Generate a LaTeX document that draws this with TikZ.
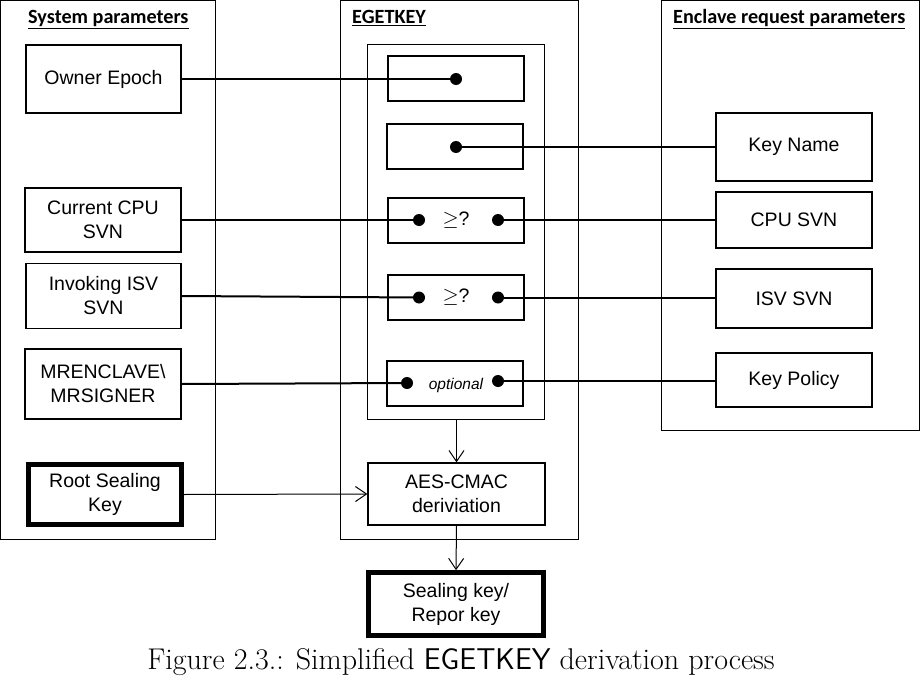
\documentclass[tikz,border=0pt]{standalone}
\usepackage{fontspec}
\usetikzlibrary{arrows.meta}
\newfontfamily\arialf{Liberation Sans}
\newfontfamily\calibrif{Carlito}
\begin{document}
\begin{tikzpicture}[x=1pt,y=-1pt,
  panel/.style={draw,line width=1pt},
  pbox/.style={draw,line width=1.3pt,inner sep=0pt,align=center,
    font=\arialf\fontsize{19.5}{24}\selectfont},
  kbox/.style={pbox,line width=4.5pt},
  slot/.style={draw,line width=1.3pt,inner sep=0pt,minimum width=136pt,minimum height=45pt,
    font=\arialf\fontsize{19.5}{24}\selectfont},
  conn/.style={line width=2pt},
  arr/.style={line width=1pt,-{Straight Barb[length=11pt,width=15pt,line width=1pt]}},
  head/.style={anchor=base west,inner sep=0pt,font=\calibrif\bfseries\fontsize{20.2}{24}\selectfont},
  dotf/.style={fill=black}
]
\useasboundingbox (0,0) rectangle (921,685);
% panels
\draw[panel] (0.5,0.5) rectangle (215,539);
\draw[panel] (340,1) rectangle (578,539);
\draw[panel] (661,1) rectangle (919,430);
\draw[panel] (367,45) rectangle (544,419);
% headings
\node[head] (h1) at (28,24) {\underline{System parameters}};
\node[head] (h2) at (352,24) {\underline{EGETKEY}};
\node[head] (h3) at (673,24) {\underline{Enclave request parameters}};
% left boxes
\node[pbox,minimum width=155pt,minimum height=68pt] (oe) at (103.5,79) {\raisebox{-2pt}{Owner Epoch}};
\node[pbox,minimum width=156pt,minimum height=64pt] (cpu) at (103,220) {Current CPU\\SVN};
\node[pbox,minimum width=155pt,minimum height=65pt] (isv) at (103.5,296) {Invoking ISV\\SVN};
\node[pbox,minimum width=156pt,minimum height=70pt] (mr) at (103,384) {MRENCLAVE\textbackslash\\MRSIGNER};
\node[kbox,minimum width=153pt,minimum height=60pt] (rsk) at (105,494.5) {Root Sealing\\Key};
% right boxes
\node[pbox,minimum width=156pt,minimum height=68pt] (kn) at (794,147) {\raisebox{-2.5pt}{Key Name}};
\node[pbox,minimum width=156pt,minimum height=56pt] (csvn) at (794,220) {\raisebox{-1.5pt}{CPU SVN}};
\node[pbox,minimum width=156pt,minimum height=59pt] (isvn) at (794,298.5) {\raisebox{-1.5pt}{ISV SVN}};
\node[pbox,minimum width=156pt,minimum height=54pt] (kp) at (794,380) {\raisebox{-2pt}{Key Policy}};
% slots
\node[slot] (s1) at (456,78.5) {};
\node[slot] (s2) at (455,146.5) {};
\node[slot] (s3) at (456,220.5) {\ensuremath{\geq}?};
\node[slot] (s4) at (456,297.5) {\ensuremath{\geq}?};
\node[slot] (s5) at (455,383.5) {};
\node[inner sep=0pt,font=\arialf\itshape\fontsize{15.5}{18}\selectfont] (opt) at (456,385) {optional};
% dot coordinates
\coordinate (d1) at (456,79);
\coordinate (d2) at (456,147);
\coordinate (d3l) at (419,220);
\coordinate (d3r) at (498,220);
\coordinate (d4l) at (419,297.5);
\coordinate (d4r) at (498,297.5);
\coordinate (d5l) at (407,383);
\coordinate (d5r) at (498,381);
% connectors
\draw[conn] (oe.east) -- (d1);
\draw[conn] (kn.west) -- (d2);
\draw[conn] (cpu.east) -- (d3l);
\draw[conn] (d3r) -- (csvn.west);
\draw[conn] (isv.east) -- (d4l);
\draw[conn] (d4r) -- (isvn.west |- d4r);
\draw[conn] (mr.east) -- (d5l);
\draw[conn] (d5r) -- (kp.west |- d5r);
\foreach \d in {d1,d2,d3l,d3r,d4l,d4r,d5l,d5r}{\fill[dotf] (\d) circle[radius=6pt];}
% derivation
\node[pbox,minimum width=177pt,minimum height=62pt] (aes) at (456.5,494) {AES-CMAC\\deriviation};
\node[kbox,minimum width=175pt,minimum height=63pt] (seal) at (456,604) {Sealing key/\\Repor key};
\coordinate (ib) at (456.5,419);
\draw[arr] (ib) -- (aes.north);
\draw[arr] (rsk.east) -- (aes.west);
\draw[arr] (aes.south) -- (seal.north);
% caption
\node[inner sep=0pt,font=\fontsize{30}{36}\selectfont] (cap) at (461,662) {Figure 2.3.: Simplified \textsf{EGETKEY} derivation process};
\end{tikzpicture}
\end{document}
